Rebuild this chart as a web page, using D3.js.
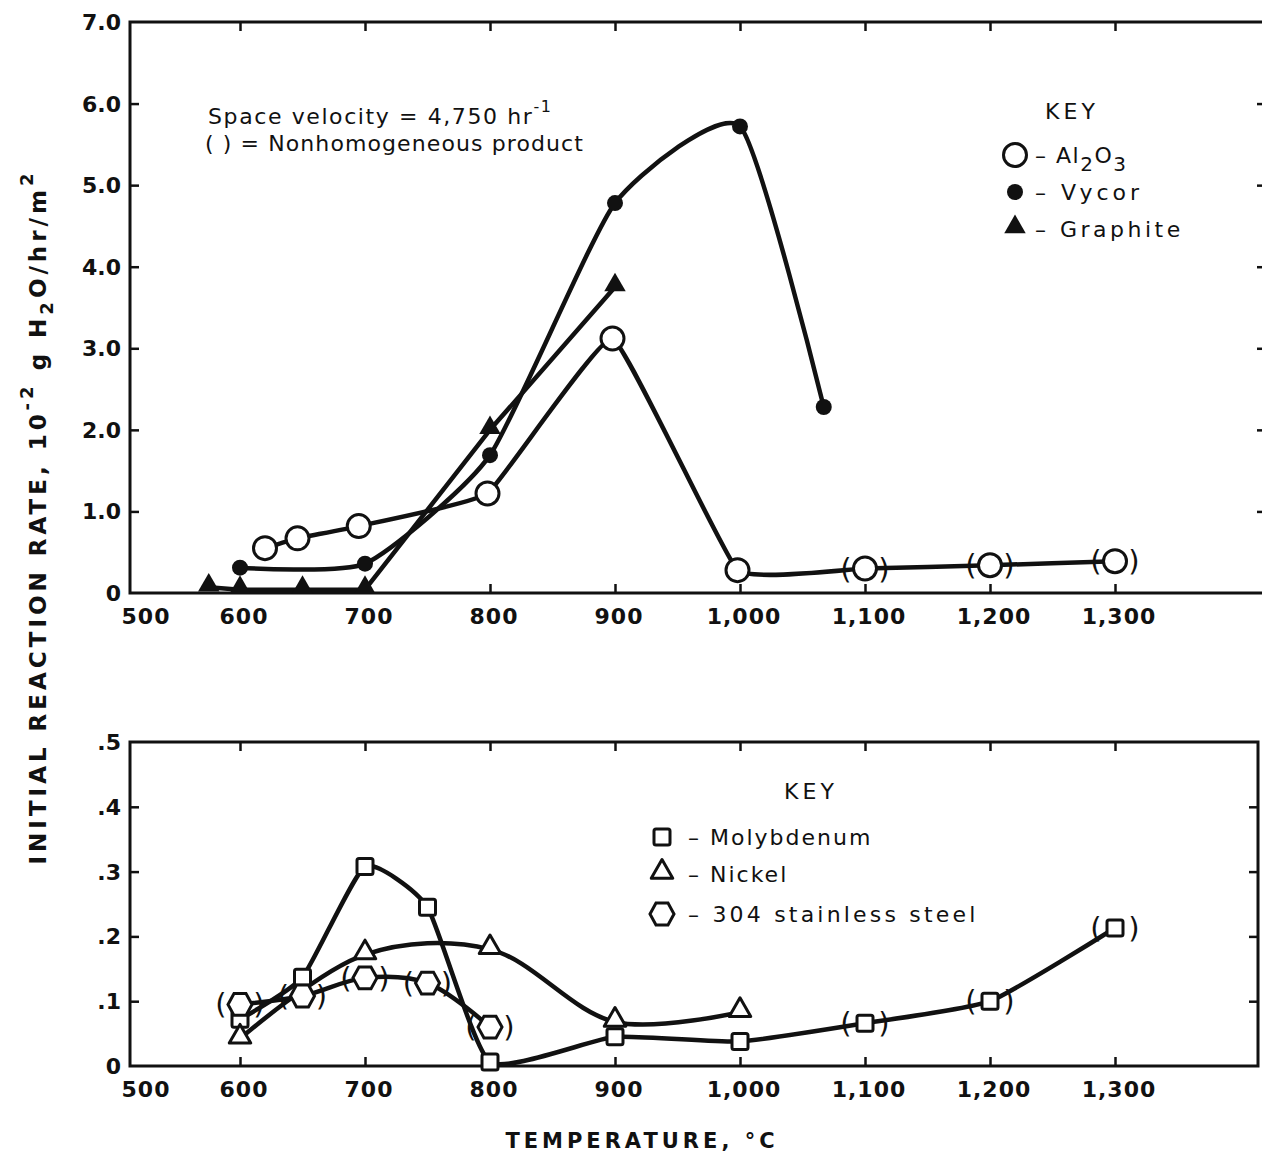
<!DOCTYPE html>
<html>
<head>
<meta charset="utf-8">
<script src="https://cdn.jsdelivr.net/npm/d3@7"></script>
<style>
  body { margin: 0; background: #fff; }
  svg text { font-family: "DejaVu Sans", sans-serif; fill: #111; }
</style>
</head>
<body>
<svg id="chart" width="1262" height="1160"></svg>
<script>
// tick values
var tempTicks = [600, 700, 800, 900, 1000, 1100, 1200, 1300];
var topRateTicks = [0, 1, 2, 3, 4, 5, 6, 7];
var botRateTicks = [0, 0.1, 0.2, 0.3, 0.4, 0.5];

// upper panel, 10^-2 g H2O/hr/m2
var aluminaT = [620, 646, 695, 798, 898, 998, 1100, 1200, 1300];
var aluminaR = [0.55, 0.67, 0.82, 1.22, 3.12, 0.28, 0.30, 0.34, 0.39];
var aluminaNonhom = [1100, 1200, 1300];

var vycorT = [600, 700, 800, 900, 1000, 1067];
var vycorR = [0.31, 0.36, 1.69, 4.78, 5.72, 2.28];

var graphiteT = [575, 600, 650, 700, 800, 900];
var graphiteR = [0.07, 0.04, 0.04, 0.04, 2.0, 3.75];

// lower panel
var molyT = [600, 650, 700, 750, 800, 900, 1000, 1100, 1200, 1300];
var molyR = [0.072, 0.137, 0.308, 0.245, 0.006, 0.045, 0.038, 0.066, 0.100, 0.213];
var molyNonhom = [1100, 1200, 1300];

var nickelT = [600, 700, 800, 900, 1000];
var nickelR = [0.042, 0.172, 0.180, 0.068, 0.083];

var steelT = [600, 650, 700, 750, 800];
var steelR = [0.095, 0.108, 0.136, 0.128, 0.060];
var steelNonhom = [600, 650, 700, 750, 800];

var svg = d3.select("#chart");

var x = d3.scaleLinear().domain([512, 1416]).range([130, 1260]);
var yTop = d3.scaleLinear().domain([0, 7]).range([593, 22]);
var yBot = d3.scaleLinear().domain([0, 0.5]).range([1066, 742]);

var fmt = d3.format(",");

function zip(ts, rs, nonhom) {
    nonhom = nonhom || [];
    return ts.map(function(t, i) { return {t: t, r: rs[i], nh: nonhom.indexOf(t) >= 0}; });
}

var topSeries = [
    {name: "alumina", pts: zip(aluminaT, aluminaR, aluminaNonhom), marker: "circleOpen", curve: d3.curveCardinal.tension(0.7)},
    {name: "vycor", pts: zip(vycorT, vycorR), marker: "circleFilled", curve: d3.curveCardinal.tension(0.45)},
    {name: "graphite", pts: zip(graphiteT, graphiteR), marker: "triFilled", curve: d3.curveLinear}
];
var botSeries = [
    {name: "moly", pts: zip(molyT, molyR, molyNonhom), marker: "square", curve: d3.curveCardinal.tension(0.5)},
    {name: "nickel", pts: zip(nickelT, nickelR), marker: "triOpen", curve: d3.curveCatmullRom.alpha(0.5)},
    {name: "steel", pts: zip(steelT, steelR, steelNonhom), marker: "hex", curve: d3.curveCatmullRom.alpha(0.5)}
];

function hexPath(r) {
    var pts = d3.range(6).map(function(i) {
        var a = i * Math.PI / 3;
        return [r * Math.cos(a), r * 1.05 * Math.sin(a)];
    });
    return "M" + pts.join("L") + "Z";
}

// draws one marker into g at (0,0)
function drawMarker(g, kind) {
    if (kind === "circleOpen") {
        g.append("circle").attr("r", 11.5).attr("fill", "#fff").attr("stroke", "#111").attr("stroke-width", 3);
    } else if (kind === "circleFilled") {
        g.append("circle").attr("r", 8).attr("fill", "#111");
    } else if (kind === "triFilled") {
        g.append("path").attr("d", d3.symbol().type(d3.symbolTriangle).size(200)())
            .attr("transform", "translate(0,-2)").attr("fill", "#111");
    } else if (kind === "square") {
        g.append("rect").attr("x", -8).attr("y", -8).attr("width", 16).attr("height", 16).attr("rx", 2)
            .attr("fill", "#fff").attr("stroke", "#111").attr("stroke-width", 3);
    } else if (kind === "triOpen") {
        g.append("path").attr("d", d3.symbol().type(d3.symbolTriangle).size(200)())
            .attr("transform", "translate(0,-2)")
            .attr("fill", "#fff").attr("stroke", "#111").attr("stroke-width", 3).attr("stroke-linejoin", "round");
    } else if (kind === "hex") {
        g.append("path").attr("d", hexPath(12))
            .attr("fill", "#fff").attr("stroke", "#111").attr("stroke-width", 3);
    }
}

function drawPanel(y, series, yTicks, yFmt, box) {
    var p = svg.append("g");

    // frame
    p.append("rect").attr("x", box.left).attr("y", box.top)
        .attr("width", box.right - box.left).attr("height", box.bottom - box.top)
        .attr("fill", "none").attr("stroke", "#111").attr("stroke-width", 3);

    // inward ticks on the four sides
    p.append("g").attr("transform", "translate(0," + box.bottom + ")")
        .call(d3.axisBottom(x).tickValues(tempTicks).tickSize(-9).tickFormat(""))
        .call(function(g) { g.select(".domain").remove(); });
    p.append("g").attr("transform", "translate(0," + box.top + ")")
        .call(d3.axisTop(x).tickValues(tempTicks).tickSize(-9).tickFormat(""))
        .call(function(g) { g.select(".domain").remove(); });
    p.append("g").attr("transform", "translate(" + box.left + ",0)")
        .call(d3.axisLeft(y).tickValues(yTicks.slice(1, -1)).tickSize(-9).tickFormat(""))
        .call(function(g) { g.select(".domain").remove(); });
    p.append("g").attr("transform", "translate(" + box.right + ",0)")
        .call(d3.axisRight(y).tickValues(yTicks.slice(1, -1)).tickSize(-9).tickFormat(""))
        .call(function(g) { g.select(".domain").remove(); });
    p.selectAll(".tick line").attr("stroke", "#111").attr("stroke-width", 2.5);

    // tick labels
    p.selectAll(".xlab").data(tempTicks).enter().append("text")
        .attr("x", function(d) { return x(d) + 4; })
        .attr("y", box.bottom + 31)
        .attr("text-anchor", "middle")
        .attr("font-size", 22).attr("font-weight", "bold").attr("letter-spacing", 1)
        .text(function(d) { return fmt(d); });
    p.append("text").attr("x", box.left + 16).attr("y", box.bottom + 31)
        .attr("text-anchor", "middle").attr("font-size", 22).attr("font-weight", "bold").attr("letter-spacing", 1)
        .text("500");

    p.selectAll(".ylab").data(yTicks).enter().append("text")
        .attr("x", box.left - 9)
        .attr("y", function(d) { return y(d) + 8; })
        .attr("text-anchor", "end")
        .attr("font-size", 22).attr("font-weight", "bold")
        .text(yFmt);

    var line = function(s) {
        return d3.line().curve(s.curve)
            .x(function(d) { return x(d.t); })
            .y(function(d) { return y(d.r); })(s.pts);
    };

    p.selectAll(".series").data(series).enter().append("path")
        .attr("d", line)
        .attr("fill", "none").attr("stroke", "#111").attr("stroke-width", 4.5)
        .attr("stroke-linejoin", "round");

    series.forEach(function(s) {
        var m = p.selectAll(".m-" + s.name).data(s.pts).enter().append("g")
            .attr("transform", function(d) { return "translate(" + x(d.t) + "," + y(d.r) + ")"; });
        m.each(function(d) {
            var g = d3.select(this);
            drawMarker(g, s.marker);
            if (d.nh) {
                g.append("text").attr("x", -19).attr("y", 10).attr("text-anchor", "middle")
                    .attr("font-size", 29).text("(");
                g.append("text").attr("x", 19).attr("y", 10).attr("text-anchor", "middle")
                    .attr("font-size", 29).text(")");
            }
        });
    });
    return p;
}

var topPanel = drawPanel(yTop, topSeries, topRateTicks, function(d) { return d === 0 ? "0" : d3.format(".1f")(d); },
    {left: 130, right: 1266, top: 22, bottom: 593});
var botPanel = drawPanel(yBot, botSeries, botRateTicks, function(d) { return d === 0 ? "0" : d3.format(".1f")(d).replace("0.", "."); },
    {left: 130, right: 1258, top: 742, bottom: 1066});

// annotation, upper panel
var note = svg.append("text").attr("x", 208).attr("y", 124).attr("font-size", 22).attr("letter-spacing", 1.6);
note.append("tspan").text("Space  velocity = 4,750 hr");
note.append("tspan").attr("dy", -12).attr("font-size", 16).text("-1");
svg.append("text").attr("x", 205).attr("y", 151).attr("font-size", 22).attr("letter-spacing", 1.1)
    .text("( ) = Nonhomogeneous product");

// keys
function drawKey(items, kx, ky, rowY, textX, keyDx) {
    var k = svg.append("g");
    k.append("text").attr("x", kx + keyDx).attr("y", ky).attr("text-anchor", "middle")
        .attr("font-size", 22).attr("letter-spacing", 4).text("KEY");
    items.forEach(function(it, i) {
        var g = k.append("g").attr("transform", "translate(" + kx + "," + rowY[i] + ")");
        drawMarker(g, it.marker);
        var t = g.append("text").attr("x", textX).attr("y", 8).attr("font-size", 22).attr("letter-spacing", it.ls || 1.5);
        it.parts.forEach(function(pt) {
            var ts = t.append("tspan").text(pt.s);
            if (pt.sub) ts.attr("dy", 8).attr("font-size", 20);
            if (pt.back) ts.attr("dy", -8);
        });
    });
}

drawKey([
    {marker: "circleOpen", parts: [{s: "– Al"}, {s: "2", sub: true}, {s: "O", back: true}, {s: "3", sub: true}]},
    {marker: "circleFilled", parts: [{s: "– Vycor"}], ls: 4},
    {marker: "triFilled", parts: [{s: "– Graphite"}], ls: 3.5}
], 1015, 119, [155, 192, 229], 20, 57);

drawKey([
    {marker: "square", parts: [{s: "– Molybdenum"}], ls: 2},
    {marker: "triOpen", parts: [{s: "– Nickel"}], ls: 2},
    {marker: "hex", parts: [{s: "– 304   stainless  steel"}], ls: 3.2}
], 662, 799, [837, 874, 914], 26, 149);

// axis titles
svg.append("text").attr("x", 642).attr("y", 1148).attr("text-anchor", "middle")
    .attr("font-size", 21).attr("font-weight", "bold").attr("letter-spacing", 4)
    .text("TEMPERATURE, °C");

var yt = svg.append("text").attr("transform", "translate(46,517) rotate(-90)")
    .attr("text-anchor", "middle").attr("font-size", 23).attr("font-weight", "bold").attr("letter-spacing", 4);
yt.append("tspan").text("INITIAL REACTION RATE, 10");
yt.append("tspan").attr("dy", -13).attr("font-size", 18).text("-2");
yt.append("tspan").attr("dy", 13).text(" g H");
yt.append("tspan").attr("dy", 7).attr("font-size", 18).text("2");
yt.append("tspan").attr("dy", -7).text("O/hr/m");
yt.append("tspan").attr("dy", -13).attr("font-size", 18).text("2");
</script>
</body>
</html>
